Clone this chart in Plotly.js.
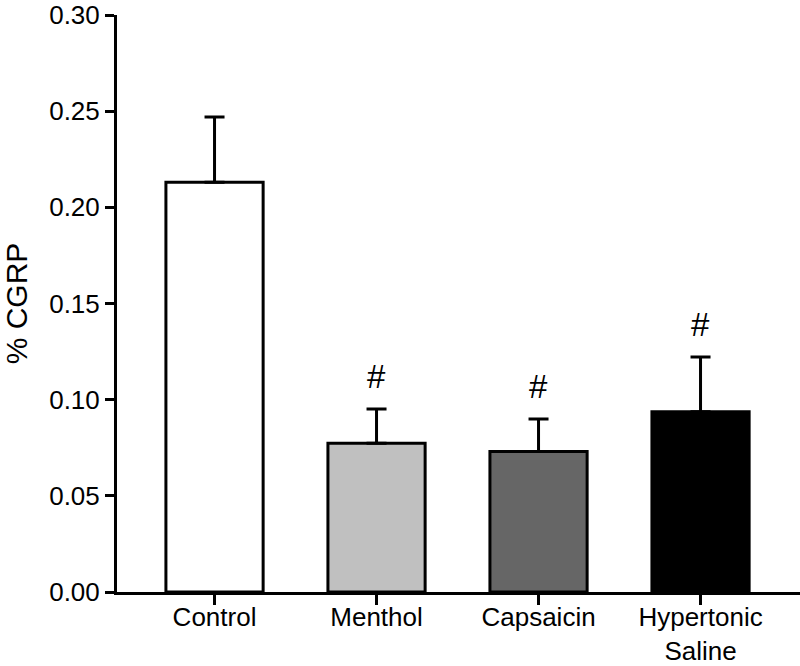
<!DOCTYPE html>
<html>
<head>
<meta charset="utf-8">
<script src="https://cdn.plot.ly/plotly-3.0.1.min.js"></script>
<style>html,body{margin:0;padding:0;background:#fff;}#chart{width:800px;height:666px;}</style>
</head>
<body>
<div id="chart"></div>
<script>
const categories = ["Control", "Menthol", "Capsaicin", "Hypertonic<br>Saline"];
const values = [0.213, 0.0774, 0.0730, 0.0937];
const errors = [0.034, 0.0177, 0.0169, 0.0285];
const fillColors = ["#ffffff", "#c0c0c0", "#666666", "#000000"];
const significance = ["", "#", "#", "#"];
const yTicks = [0, 0.05, 0.10, 0.15, 0.20, 0.25, 0.30];
const yTickLabels = ["0.00", "0.05", "0.10", "0.15", "0.20", "0.25", "0.30"];

const font = "Liberation Sans, Arial, sans-serif";

const trace = {
  type: "bar",
  x: categories,
  y: values,
  width: 0.6,
  marker: { color: fillColors, line: { color: "#000", width: 3 } },
  error_y: {
    type: "data",
    array: errors,
    arrayminus: errors.map(() => 0),
    symmetric: false,
    color: "#000",
    thickness: 3,
    width: 10
  },
  hoverinfo: "none"
};

const annotations = categories.map((c, i) => ({
  x: c,
  y: values[i] + errors[i],
  text: significance[i],
  showarrow: false,
  yanchor: "bottom",
  yshift: 12,
  font: { family: font, size: 33, color: "#000" }
})).filter(a => a.text);

const layout = {
  width: 800,
  height: 666,
  margin: { l: 117, r: 0, t: 15, b: 74 },
  paper_bgcolor: "#fff",
  plot_bgcolor: "#fff",
  showlegend: false,
  font: { family: font, size: 26, color: "#000" },
  xaxis: {
    type: "category",
    range: [-0.602, 3.614],
    showline: true,
    linecolor: "#000",
    linewidth: 3,
    ticks: "outside",
    ticklen: 10,
    tickwidth: 3,
    tickcolor: "#000",
    showgrid: false,
    zeroline: false,
    ticklabelstandoff: -10,
    tickfont: { family: font, size: 26, color: "#000" },
    fixedrange: true
  },
  yaxis: {
    range: [0, 0.30],
    tickvals: yTicks,
    ticktext: yTickLabels,
    showline: true,
    linecolor: "#000",
    linewidth: 3,
    ticks: "outside",
    ticklen: 9,
    tickwidth: 3,
    tickcolor: "#000",
    showgrid: false,
    zeroline: false,
    tickfont: { family: font, size: 26, color: "#000" },
    title: { text: "% CGRP", font: { family: font, size: 30, color: "#000" }, standoff: 19 },
    automargin: false,
    fixedrange: true
  },
  annotations: annotations
};

Plotly.newPlot("chart", [trace], layout, { displayModeBar: false, staticPlot: true });
</script>
</body>
</html>
